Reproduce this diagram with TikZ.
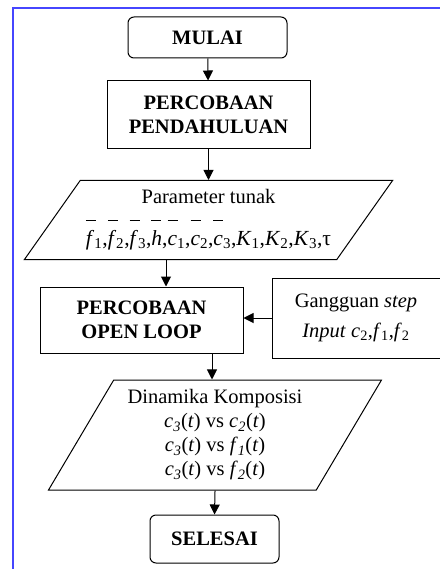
\documentclass[tikz,border=0pt]{standalone}
\usepackage{fontspec}
\setmainfont{Liberation Serif}
\usepackage{tikz}
\usetikzlibrary{arrows.meta,shapes.geometric}

\definecolor{framblue}{RGB}{70,70,255}
\newcommand{\ovl}[1]{\rlap{\raisebox{25pt}{\rule{10pt}{0.9pt}}}\textit{#1}}
\newcommand{\sv}[2]{\textit{#1}\textsubscript{#2}}

\tikzset{
  term/.style={draw,line width=1pt,rounded corners=6pt,font=\fontsize{20.5}{24}\selectfont\bfseries,align=center},
  proc/.style={draw,line width=1pt,font=\fontsize{20.5}{24}\selectfont\bfseries,align=center},
  data/.style={draw,line width=1pt,trapezium,trapezium stretches=true,font=\fontsize{20.5}{24}\selectfont,align=center},
  arr/.style={line width=1pt,-{Triangle[width=10pt,length=10pt]}}
}

\begin{document}
\begin{tikzpicture}[x=1pt,y=-1pt]
\useasboundingbox (0,0) rectangle (439,569);
\draw [line width=2pt,framblue] (12.5,569) |- (441,8.5);
\node (mulai) at (207.5,37.5) [term,minimum width=159pt,minimum height=41pt] {MULAI};
\node (pendahuluan) at (208.5,115) [proc,minimum width=203pt,minimum height=68pt] {PERCOBAAN\\PENDAHULUAN};
\node (param) at (208.5,220) [data,trapezium left angle=51,trapezium right angle=129,minimum width=369pt,minimum height=79pt]
  {Parameter tunak\\[15pt]\fontsize{21.5}{25}\selectfont\ovl{f}\textsubscript{1},\ovl{f}\textsubscript{2},\ovl{f}\textsubscript{3},\ovl{h},\ovl{c}\textsubscript{1},\ovl{c}\textsubscript{2},\ovl{c}\textsubscript{3},\sv{K}{1},\sv{K}{2},\sv{K}{3},τ};
\node (openloop) at (141.5,320) [proc,minimum width=203pt,minimum height=66pt] {PERCOBAAN\\OPEN LOOP};
\node (gangguan) at (356,318) [proc,font=\fontsize{20.5}{24}\selectfont,minimum width=168pt,minimum height=80pt]
  {Gangguan \textit{step}\\[6pt]\textit{Input} \sv{c}{2},\sv{f}{1},\sv{f}{2}};
\node (dinamika) at (215,435) [data,trapezium left angle=59,trapezium right angle=121,minimum width=334pt,minimum height=110pt]
  {Dinamika Komposisi\\
   \sv{c}{\itshape 3}(\textit{t}) vs \sv{c}{\itshape 2}(\textit{t})\\
   \sv{c}{\itshape 3}(\textit{t}) vs \sv{f}{\itshape 1}(\textit{t})\\
   \sv{c}{\itshape 3}(\textit{t}) vs \sv{f}{\itshape 2}(\textit{t})};
\node (selesai) at (214.5,539) [term,minimum width=129pt,minimum height=48pt] {SELESAI};
\draw [arr] (mulai) -- (pendahuluan);
\draw [arr] (pendahuluan) -- (param.north -| pendahuluan.south);
\draw [arr] ([xshift=24.5pt]openloop.north |- param.south) -- ([xshift=24.5pt]openloop.north);
\draw [arr] (gangguan.west) -- (gangguan.west -| openloop.east);
\draw [arr] ([xshift=70.5pt]openloop.south) -- ([xshift=70.5pt]openloop.south |- dinamika.north);
\draw [arr] (dinamika.south) -- (selesai.north);
\end{tikzpicture}
\end{document}
